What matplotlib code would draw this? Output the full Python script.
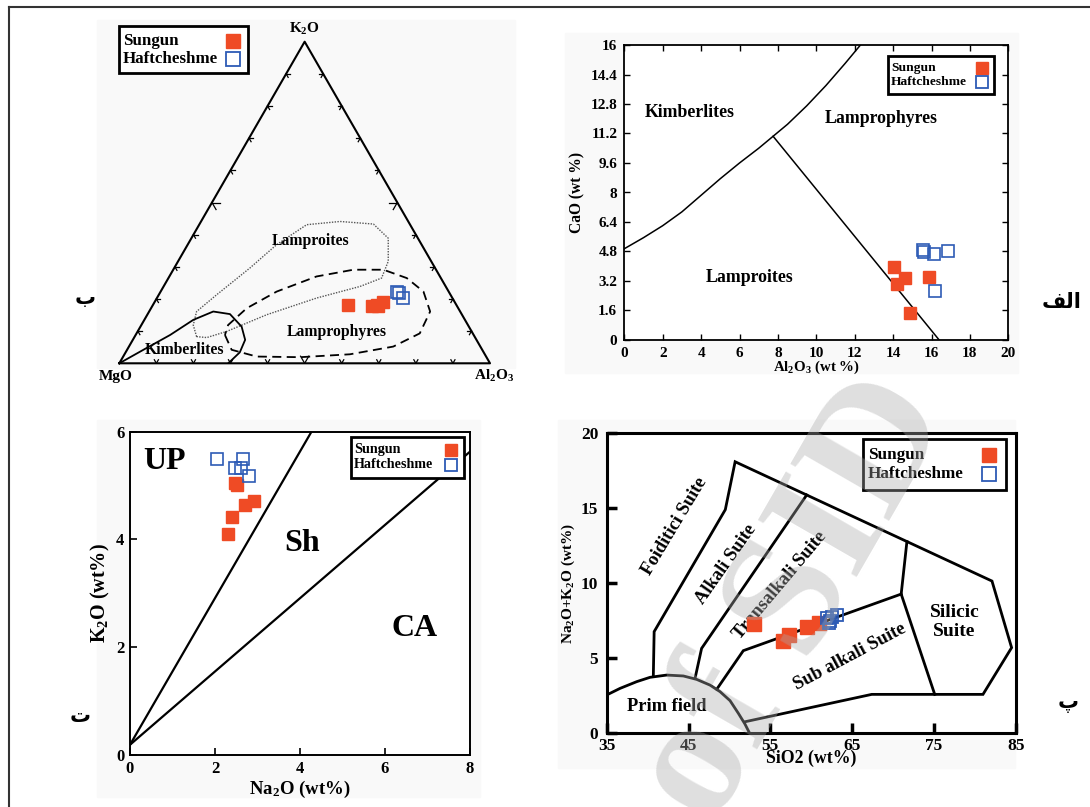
import numpy as np
import matplotlib.pyplot as plt
from matplotlib.lines import Line2D
from matplotlib.patches import Rectangle

W, H = 1090, 807
RED = '#ef4b25'
BLUE = '#2d5bb5'
SERIF = 'Liberation Serif'

plt.rcParams['font.family'] = SERIF
plt.rcParams['font.weight'] = 'bold'
plt.rcParams['axes.labelweight'] = 'bold'
plt.rcParams['mathtext.fontset'] = 'custom'
plt.rcParams['mathtext.rm'] = 'Liberation Serif:bold'
plt.rcParams['mathtext.it'] = 'Liberation Serif:bold'
plt.rcParams['mathtext.bf'] = 'Liberation Serif:bold'

# ---------------- data ----------------
# ب : ternary MgO - K2O - Al2O3 (K2O and Al2O3 in %, MgO = rest)
tern_sungun_k2o = [18.2, 18.2, 19.0, 17.9, 17.9]
tern_sungun_al2o3 = [52.5, 60.3, 61.7, 60.9, 59.3]
tern_haft_k2o = [22.1, 21.8, 20.4]
tern_haft_al2o3 = [63.8, 64.5, 66.4]

# field outlines as (K2O, Al2O3) %
lamproite_field = [(8.3, 16.7), (11.9, 14.0), (16.1, 12.8), (21.3, 15.6), (29.6, 20.4),
                   (36.9, 24.0), (43.1, 29.0), (44.1, 37.5), (43.3, 46.9), (38.9, 53.1),
                   (31.7, 56.7), (26.5, 57.5), (23.9, 53.0), (20.3, 43.1), (15.1, 32.2),
                   (9.9, 24.0), (8.0, 19.6), (8.3, 16.7)]
lamprophyre_field = [(8.8, 24.1), (4.2, 28.2), (2.1, 36.0), (1.9, 47.8), (2.8, 60.8),
                     (5.2, 71.3), (9.3, 76.4), (16.1, 75.8), (22.3, 70.9), (26.5, 64.3),
                     (29.1, 56.7), (29.1, 48.6), (27.0, 39.7), (22.3, 31.3), (17.1, 25.8),
                     (11.9, 23.4), (8.8, 24.1)]
kimberlite_field = [(0, 0), (4.2, 4.4), (8.8, 9.3), (13.5, 13.2), (16.1, 17.3), (15.3, 22.2),
                    (11.4, 27.3), (7.3, 30.3), (3.4, 30.8), (0, 29.4)]

# الف : CaO vs Al2O3
b_sungun_al = [14.05, 14.22, 14.62, 14.88, 15.89]
b_sungun_ca = [3.94, 3.03, 3.34, 1.44, 3.40]
b_haft_al = [15.57, 15.62, 16.13, 16.84, 16.20]
b_haft_ca = [4.88, 4.75, 4.64, 4.84, 2.65]
b_kimb_al = [0, 1, 2, 3, 4, 5, 6, 7, 7.75, 8.5, 9.5, 10.5, 11.5, 12.3]
b_kimb_ca = [4.95, 5.55, 6.2, 6.95, 7.85, 8.75, 9.6, 10.4, 11.05, 11.7, 12.7, 13.8, 15.0, 16.0]
b_lamp_al = [7.75, 16.4]
b_lamp_ca = [11.05, 0]

# ت : K2O vs Na2O
c_sungun_na = [2.31, 2.39, 2.51, 2.71, 2.92, 2.48]
c_sungun_k = [4.11, 4.41, 5.02, 4.64, 4.72, 5.05]
c_haft_na = [2.04, 2.47, 2.62, 2.65, 2.81]
c_haft_k = [5.49, 5.32, 5.32, 5.50, 5.18]
c_up_na = [0, 4.27]
c_up_k = [0.19, 6.0]
c_ca_na = [0, 8.0]
c_ca_k = [0.19, 5.63]

# پ : Na2O+K2O vs SiO2
d_sungun_si = [53.0, 56.6, 57.3, 59.45, 60.9]
d_sungun_alk = [7.26, 6.15, 6.53, 7.04, 7.31]
d_haft_si = [61.9, 62.3, 62.6, 63.1, 62.2]
d_haft_alk = [7.64, 7.46, 7.71, 7.86, 7.30]
prim_si = [35.0, 36.63, 38.67, 40.3, 42.33, 44.37, 46.0, 47.63, 48.86, 50.08, 51.1, 51.9, 52.44]
prim_alk = [2.52, 2.96, 3.41, 3.70, 3.85, 3.79, 3.56, 3.18, 2.74, 2.14, 1.29, 0.58, 0]
outer_si = [40.7, 40.8, 49.5, 50.7, 82.1, 84.5, 81.0, 67.4, 51.9]
outer_alk = [3.79, 6.75, 14.9, 18.1, 10.13, 5.68, 2.56, 2.56, 0.73]
alk_div_si = [59.45, 46.6, 45.8]
alk_div_alk = [15.88, 5.63, 3.63]
sub_div_si = [48.45, 51.7, 71.0]
sub_div_alk = [2.90, 5.48, 9.26]
sil_div_si = [71.7, 71.0, 75.1]
sil_div_alk = [12.76, 9.26, 2.56]


def box(l, t, r, b):
    return [l / W, 1 - b / H, (r - l) / W, (b - t) / H]


def fx(px):
    return px / W


def fy(py):
    return 1 - py / H


def tern(k2o, al2o3):
    k = np.asarray(k2o) / 100.0
    a = np.asarray(al2o3) / 100.0
    return a + k / 2, k * np.sqrt(3) / 2


def legend(l, t, r, b, size, ms, tx, y1, y2, mx):
    # hand-made legend box: text left, marker right (figure pixels)
    fig.add_artist(Rectangle((fx(l), fy(b)), (r - l) / W, (b - t) / H, transform=fig.transFigure,
                             facecolor='white', edgecolor='black', lw=2.0, zorder=6))
    fig.text(fx(tx), fy(y1), 'Sungun', fontsize=size, va='center', ha='left', zorder=7)
    fig.text(fx(tx), fy(y2), 'Haftcheshme', fontsize=size, va='center', ha='left', zorder=7)
    fig.add_artist(Line2D([fx(mx)], [fy(y1)], ls='none', marker='s', ms=ms, mfc=RED, mec=RED,
                          transform=fig.transFigure, zorder=7))
    fig.add_artist(Line2D([fx(mx)], [fy(y2)], ls='none', marker='s', ms=ms, mfc='none', mec=BLUE,
                          mew=1.3, transform=fig.transFigure, zorder=7))


fig = plt.figure(figsize=(W / 100, H / 100), dpi=100)

# figure frame and panel backgrounds
fig.add_artist(Line2D([fx(9), 1], [fy(7), fy(7)], color='#333333', lw=1.5))
fig.add_artist(Line2D([fx(9), fx(9)], [0, fy(7)], color='#333333', lw=1.5))
for l, t, r, b in [(97, 20, 515, 368), (565, 33, 1018, 373), (97, 420, 480, 797), (558, 420, 1015, 768)]:
    fig.add_artist(Rectangle((fx(l), fy(b)), (r - l) / W, (b - t) / H,
                             transform=fig.transFigure, color='#f9f9f9', zorder=0))

# ---------- ب : ternary ----------
ax = fig.add_axes(box(119.3, 41.7, 490, 363.3))
ax.set_xlim(0, 1)
s3 = np.sqrt(3) / 2
ax.set_ylim(0, s3)
ax.axis('off')
ax.plot([0, 1, 0.5, 0], [0, 0, s3, 0], color='black', lw=1.5, clip_on=False)
sides = [(np.array([0, 0]), np.array([1, 0]), np.array([0.5, s3]), np.array([-0.5, s3])),
         (np.array([0, 0]), np.array([0.5, s3]), np.array([1, 0]), np.array([0.5, -s3])),
         (np.array([1, 0]), np.array([0.5, s3]), np.array([-1, 0]), np.array([-0.5, -s3]))]
for p0, p1, u, v in sides:
    for i in range(1, 10):
        p = p0 + (p1 - p0) * i / 10
        L = 0.022 if i == 5 else 0.011
        for dvec in (u, v):
            ax.plot([p[0], p[0] + dvec[0] * L], [p[1], p[1] + dvec[1] * L], color='black', lw=0.9)

x, y = tern(*zip(*lamproite_field))
ax.plot(x, y, color='#555555', lw=1.0, ls=(0, (1, 1)))
x, y = tern(*zip(*lamprophyre_field))
ax.plot(x, y, color='black', lw=1.3, ls=(0, (5, 3)))
x, y = tern(*zip(*kimberlite_field))
ax.plot(x, y, color='black', lw=1.3)

x, y = tern(tern_sungun_k2o, tern_sungun_al2o3)
ax.plot(x, y, ls='none', marker='s', ms=9, mfc=RED, mec=RED, zorder=4)
x, y = tern(tern_haft_k2o, tern_haft_al2o3)
ax.plot(x, y, ls='none', marker='s', ms=8, mfc='none', mec=BLUE, mew=1.2, zorder=4)

ax.text(0.5, s3 + 0.033, 'K$_2$O', ha='center', va='center', fontsize=11, clip_on=False)
ax.text(-0.01, -0.035, 'MgO', ha='center', va='center', fontsize=11, clip_on=False)
ax.text(1.01, -0.035, 'Al$_2$O$_3$', ha='center', va='center', fontsize=11, clip_on=False)
ax.text(0.515, 0.33, 'Lamproites', ha='center', va='center', fontsize=11.3)
ax.text(0.587, 0.085, 'Lamprophyres', ha='center', va='center', fontsize=11.3)
ax.text(0.175, 0.035, 'Kimberlites', ha='center', va='center', fontsize=11.3)
legend(119, 26, 248, 73, 12.2, 10.5, 123, 41, 59, 233)

# ---------- الف : CaO vs Al2O3 ----------
ax = fig.add_axes(box(624.3, 45, 1008.3, 340))
ax.plot(b_kimb_al, b_kimb_ca, color='black', lw=1.1)
ax.plot(b_lamp_al, b_lamp_ca, color='black', lw=1.1)
ax.plot(b_sungun_al, b_sungun_ca, ls='none', marker='s', ms=8.5, mfc=RED, mec=RED, zorder=4)
ax.plot(b_haft_al, b_haft_ca, ls='none', marker='s', ms=8, mfc='none', mec=BLUE, mew=1.2, zorder=4)
ax.set_xlim(0, 20)
ax.set_ylim(0, 16)
ax.set_xticks(range(0, 21, 2))
ax.set_yticks(np.arange(0, 16.01, 1.6))
ax.set_yticklabels(['0', '1.6', '3.2', '4.8', '6.4', '8', '9.6', '11.2', '12.8', '14.4', '16'])
ax.tick_params(direction='in', top=True, right=True, length=4, width=1, labelsize=11, pad=5)
for s in ax.spines.values():
    s.set_linewidth(1.3)
ax.set_xlabel('Al$_2$O$_3$ (wt %)', fontsize=10.7, labelpad=-1)
ax.set_ylabel('CaO (wt %)', fontsize=11.2, labelpad=4)
ax.text(3.4, 12.35, 'Kimberlites', ha='center', va='center', fontsize=12.8)
ax.text(13.4, 12.0, 'Lamprophyres', ha='center', va='center', fontsize=12.8)
ax.text(6.5, 3.4, 'Lamproites', ha='center', va='center', fontsize=12.8)
legend(888, 56, 994, 94, 9.7, 9, 891, 68, 82, 982)

# ---------- ت : K2O vs Na2O ----------
ax = fig.add_axes(box(130, 431.7, 470, 755))
ax.plot(c_up_na, c_up_k, color='black', lw=1.6)
ax.plot(c_ca_na, c_ca_k, color='black', lw=1.6)
ax.plot(c_sungun_na, c_sungun_k, ls='none', marker='s', ms=8.5, mfc=RED, mec=RED, zorder=4)
ax.plot(c_haft_na, c_haft_k, ls='none', marker='s', ms=8.5, mfc='none', mec=BLUE, mew=1.2, zorder=4)
ax.set_xlim(0, 8)
ax.set_ylim(0, 6)
ax.set_xticks(range(0, 9, 2))
ax.set_yticks(range(0, 7, 2))
ax.tick_params(direction='in', length=5, width=1.2, labelsize=12, pad=4)
for s in ax.spines.values():
    s.set_linewidth(1.4)
ax.set_xlabel('Na$_2$O (wt%)', fontsize=13.5, labelpad=2)
ax.set_ylabel('K$_2$O (wt%)', fontsize=14.5, labelpad=3)
ax.text(0.8, 5.45, 'UP', ha='center', va='center', fontsize=23)
ax.text(4.04, 3.93, 'Sh', ha='center', va='center', fontsize=23)
ax.text(6.7, 2.35, 'CA', ha='center', va='center', fontsize=23)
legend(350.7, 436.7, 464, 478.3, 10.2, 9, 354, 450, 465, 450.7)

# ---------- پ : TAS ----------
ax = fig.add_axes(box(606.7, 433.3, 1015.7, 732.7))
for xs, ys in [(prim_si, prim_alk), (outer_si, outer_alk), (alk_div_si, alk_div_alk),
               (sub_div_si, sub_div_alk), (sil_div_si, sil_div_alk)]:
    ax.plot(xs, ys, color='black', lw=2.0, solid_joinstyle='miter')
ax.plot(d_sungun_si, d_sungun_alk, ls='none', marker='s', ms=9.5, mfc=RED, mec=RED, zorder=4)
ax.plot(d_haft_si, d_haft_alk, ls='none', marker='s', ms=8, mfc='none', mec=BLUE, mew=1.3, zorder=4)
ax.set_xlim(35, 85)
ax.set_ylim(0, 20)
ax.set_xticks(range(35, 86, 10))
ax.set_yticks(range(0, 21, 5))
ax.tick_params(direction='in', length=7, width=2.5, labelsize=12.5)
ax.tick_params(axis='y', pad=6)
ax.tick_params(axis='x', pad=4)
for s in ax.spines.values():
    s.set_linewidth(2.2)
ax.set_xlabel('SiO2 (wt%)', fontsize=12.8, labelpad=-3)
ax.set_ylabel('Na$_2$O+K$_2$O (wt%)', fontsize=11, labelpad=3)
ax.text(43.3, 13.8, 'Foiditici Suite', rotation=59, ha='center', va='center', fontsize=13.3)
ax.text(49.55, 11.27, 'Alkali Suite', rotation=55, ha='center', va='center', fontsize=13.3)
ax.text(56.2, 9.87, 'Transalkali Suite', rotation=50, ha='center', va='center', fontsize=13.3)
ax.text(64.74, 5.08, 'Sub alkali Suite', rotation=28, ha='center', va='center', fontsize=13.3)
ax.text(77.5, 7.4, 'Silicic\nSuite', ha='center', va='center', fontsize=14, linespacing=1.1)
ax.text(42.3, 1.75, 'Prim field', ha='center', va='center', fontsize=13.3)
legend(863.3, 439, 1006, 490, 12.3, 10.5, 868, 455, 474, 989)

# panel letters
arab = dict(family=['DejaVu Sans'], weight='bold', fontsize=15, ha='center', va='center')
fig.text(fx(1062), fy(302), '\ufed2\ufedf\u0627', **arab)
fig.text(fx(85), fy(298), '\u0628', **arab)
fig.text(fx(80), fy(716), '\u062a', **arab)
fig.text(fx(1068), fy(703), '\u067e', **arab)

# watermark
fig.text(fx(795), fy(600), 'of SID', rotation=60, ha='center', va='center',
         fontsize=125, color='#aaaaaa', alpha=0.38, zorder=10)

fig.savefig('out.png', dpi=100)
